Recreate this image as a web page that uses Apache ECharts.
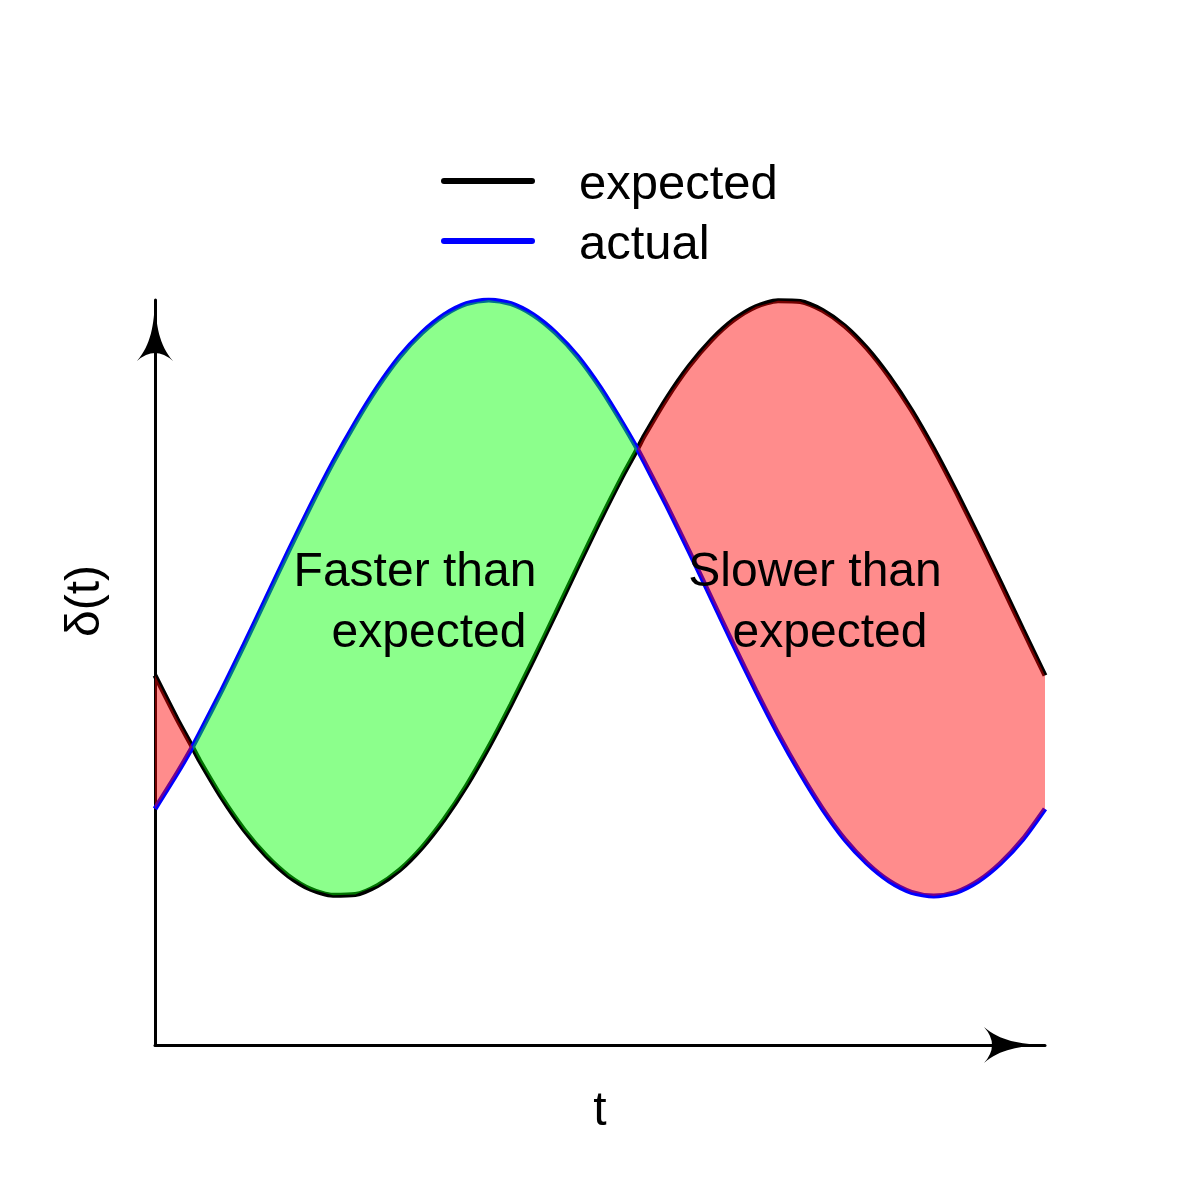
<!DOCTYPE html>
<html>
<head>
<meta charset="utf-8">
<script src="https://cdn.jsdelivr.net/npm/echarts@6/dist/echarts.min.js"></script>
<style>
  html, body { margin: 0; padding: 0; background: #fff; }
  #chart { width: 1200px; height: 1200px; }
</style>
</head>
<body>
<div id="chart"></div>
<script>
// sample positions along t (includes the two crossing points)
const t = [0, 0.25, 0.42, 0.5, 0.75, 1, 1.25, 1.5, 1.75, 2, 2.25, 2.5, 2.75, 3, 3.25, 3.5, 3.75, 4, 4.25, 4.5, 4.75, 5, 5.25, 5.42, 5.5, 5.75, 6, 6.25, 6.5, 6.75, 7, 7.25, 7.5, 7.75, 8, 8.25, 8.5, 8.75, 9, 9.25, 9.5, 9.75, 10];

// expected delta(t) (black curve)
const expected = [4.96, 4.37, 4.00, 3.82, 3.32, 2.89, 2.54, 2.27, 2.09, 2.01, 2.02, 2.14, 2.35, 2.65, 3.03, 3.48, 4.00, 4.57, 5.17, 5.79, 6.42, 7.04, 7.63, 8.00, 8.18, 8.68, 9.11, 9.46, 9.73, 9.91, 9.99, 9.98, 9.86, 9.65, 9.35, 8.97, 8.52, 8.00, 7.43, 6.83, 6.21, 5.58, 4.96];

// actual delta(t) (blue curve)
const actual = [3.17, 3.65, 4.00, 4.18, 4.76, 5.37, 6.00, 6.63, 7.24, 7.82, 8.35, 8.83, 9.24, 9.56, 9.80, 9.95, 10.00, 9.95, 9.80, 9.56, 9.24, 8.83, 8.35, 8.00, 7.82, 7.24, 6.63, 6.00, 5.37, 4.76, 4.18, 3.65, 3.17, 2.76, 2.44, 2.20, 2.05, 2.00, 2.05, 2.20, 2.44, 2.76, 3.17];

// text
const seriesNames = ['expected', 'actual'];
const xName = 't';
const yName = 'δ(t)';
const fasterLines = ['Faster than', 'expected'];
const slowerLines = ['Slower than', 'expected'];

const expData = t.map((x, i) => [x, expected[i]]);
const actData = t.map((x, i) => [x, actual[i]]);

const FONT = '"Liberation Sans", Arial, Helvetica, sans-serif';
const arrowPath = 'path://M18 0 C19 25 22 45 36 61 Q27 53 18 53 Q9 53 0 61 C14 45 17 25 18 0 Z';
const legendIcon = 'path://M0 14 M3 0 H91 A3 3 0 0 1 91 6 H3 A3 3 0 0 1 3 0 Z';
const GREEN = 'rgba(0,255,0,0.45)';
const RED = 'rgba(255,0,0,0.45)';

const axisCommon = {
  type: 'value', min: 0, max: 10,
  axisTick: { show: false },
  axisLabel: { show: false },
  splitLine: { show: false },
  axisLine: {
    show: true, onZero: false,
    lineStyle: { color: '#000', width: 3 },
    symbol: ['none', arrowPath],
    symbolSize: [36, 61],
    symbolOffset: [0, -30.5]
  },
  nameLocation: 'middle',
  nameTextStyle: { fontSize: 48, fontFamily: FONT, color: '#000' }
};

// fill between the two curves: green where actual is above, red where expected is above
function renderBands(params, api) {
  const children = [];
  const n = t.length;
  const segSign = i => Math.sign((actual[i] - expected[i]) + (actual[i + 1] - expected[i + 1]));
  let i = 0;
  while (i < n - 1) {
    const s = segSign(i);
    let j = i;
    while (j < n - 1 && segSign(j) === s) j++;
    const upper = [], lowerPts = [];
    for (let k = i; k <= j; k++) {
      upper.push(api.coord([t[k], Math.max(expected[k], actual[k])]));
      lowerPts.push(api.coord([t[k], Math.min(expected[k], actual[k])]));
    }
    children.push({
      type: 'polygon',
      shape: { points: upper.concat(lowerPts.reverse()) },
      style: { fill: s > 0 ? GREEN : RED, stroke: null }
    });
    i = j;
  }
  return { type: 'group', children: children };
}

const chart = echarts.init(document.getElementById('chart'), null, { renderer: 'canvas' });

const textEl = (str, x, y, rot) => ({
  type: 'text', x: x, y: y, rotation: rot || 0, silent: true, z: 100,
  style: { text: str, font: '48px ' + FONT, fill: '#000', align: 'center', verticalAlign: 'middle' }
});

chart.setOption({
  animation: false,
  backgroundColor: '#fff',
  grid: { left: 155, right: 155, top: 300, bottom: 155, containLabel: false },
  xAxis: Object.assign({}, axisCommon, { name: xName, nameGap: 43 }),
  yAxis: Object.assign({}, axisCommon, { name: '' }),
  legend: {
    data: seriesNames,
    orient: 'vertical',
    left: 441, top: 155,
    padding: 0,
    icon: legendIcon,
    itemWidth: 94, itemHeight: 20, itemGap: 0,
    selectedMode: false,
    textStyle: { fontSize: 49, fontFamily: FONT, color: '#000', lineHeight: 60, padding: [0, 0, 0, 39] }
  },
  series: [
    { name: seriesNames[0], type: 'line', data: expData, symbol: 'none', showSymbol: false, smooth: 0.25,
      lineStyle: { color: '#000', width: 5 }, itemStyle: { color: '#000' }, z: 2, silent: true },
    { name: seriesNames[1], type: 'line', data: actData, symbol: 'none', showSymbol: false, smooth: 0.25,
      lineStyle: { color: '#0000ff', width: 5 }, itemStyle: { color: '#0000ff' }, z: 2, silent: true },
    { name: 'bands', type: 'custom', data: [[0, 0]], renderItem: renderBands, z: 3, silent: true }
  ],
  graphic: [
    textEl(yName, 86, 601, Math.PI / 2),
    textEl(fasterLines[0], 415, 573),
    textEl(fasterLines[1], 429, 634),
    textEl(slowerLines[0], 815, 573),
    textEl(slowerLines[1], 830, 634)
  ]
});
</script>
</body>
</html>
